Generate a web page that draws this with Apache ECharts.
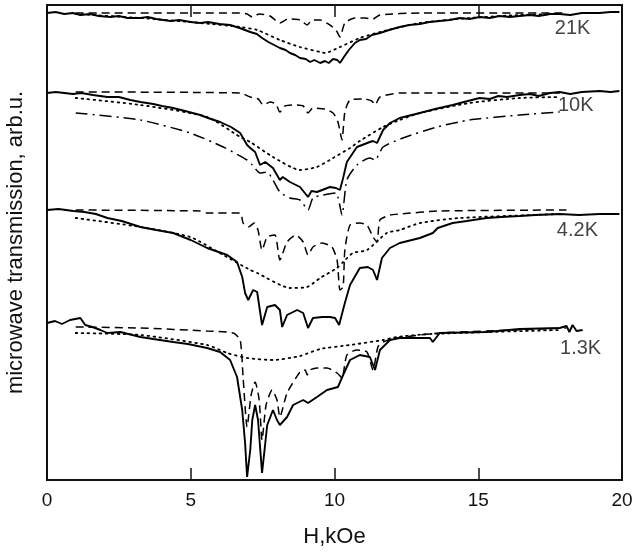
<!DOCTYPE html>
<html>
<head>
<meta charset="utf-8">
<script src="https://cdn.jsdelivr.net/npm/echarts@6/dist/echarts.min.js"></script>
<style>
  html, body { margin: 0; padding: 0; background: #fff; }
  #main { width: 635px; height: 557px; }
</style>
</head>
<body>
<div id="main"></div>
<script>
// x in kOe, y in arbitrary units (curves offset by temperature)
var xTicks = [0, 5, 10, 15, 20];

// 21K
var solid21 = [[0,467],[0.3,468],[0.6,466],[0.9,467],[1.16,465],[1.5,466],[1.8,464],[2.2,463],[2.5,464],[2.8,462],[3.25,462],[3.5,463],[3.8,461],[4.29,459],[4.6,460],[5.0,458],[5.33,457],[5.6,458],[6.0,456],[6.37,455],[6.7,452],[7.07,448],[7.3,446],[7.48,442],[7.7,438],[7.9,435],[8.1,432],[8.3,430],[8.45,427],[8.63,425],[8.8,422],[9.0,421],[9.15,418],[9.3,420],[9.5,417],[9.67,419],[9.8,417],[9.95,421],[10.1,420],[10.19,417],[10.35,424],[10.5,430],[10.71,437],[10.88,440],[11.1,441],[11.3,445],[11.58,447],[11.9,450],[12.27,453],[12.6,455],[12.97,456],[13.3,458],[13.66,459],[14.0,460],[14.36,462],[14.7,461],[15.05,463],[15.4,462],[15.74,464],[16.1,463],[16.44,464],[16.8,465],[17.1,464],[17.5,466],[17.83,466],[18.2,465],[18.6,467],[19.22,467],[19.6,468],[19.91,468]];
var dash21 = [[1.0,467],[6.72,467],[6.96,466],[7.14,463],[7.38,466],[7.76,464],[8.1,457],[8.38,461],[8.8,460],[9.05,455],[9.22,460],[9.5,460],[9.84,455],[10.05,450],[10.19,443],[10.36,457],[10.71,462],[11.06,462],[11.34,461],[11.58,465],[12.97,467],[18.07,467]];
var dot21 = [[1.0,466],[3.25,462],[5.33,457],[6.72,453],[7.31,450],[8.1,440],[8.8,433],[9.5,428],[9.67,427],[10.19,433],[10.88,442],[11.58,448],[12.97,457],[14.7,462],[16.44,465],[17.83,466]];

// 10K
var solid10 = [[0,387],[0.3,388],[0.9,386],[1.2,387],[1.6,385],[2.1,383],[2.5,383],[2.9,380],[3.25,378],[3.7,376],[4.0,374],[4.39,372],[4.8,369],[5.33,365],[5.6,362],[6.02,358],[6.4,353],[6.72,347],[6.96,335],[7.07,332],[7.24,328],[7.41,315],[7.59,318],[7.86,312],[8.1,300],[8.2,303],[8.45,298],[8.8,293],[9.08,283],[9.2,289],[9.39,288],[9.84,293],[10.05,292],[10.19,290],[10.3,302],[10.43,318],[10.78,333],[11.23,338],[11.34,339],[11.48,337],[11.69,350],[11.93,357],[12.27,362],[12.97,367],[13.5,371],[14.11,375],[14.5,378],[15.05,382],[15.4,381],[15.7,384],[16.0,383],[16.44,385],[16.8,386],[17.1,384],[17.5,387],[17.83,388],[18.2,386],[18.6,388],[19.22,389],[19.6,388],[19.91,389]];
var dash10 = [[1.0,388],[6.72,387],[7.07,383],[7.35,381],[7.52,375],[7.76,378],[7.96,376],[8.1,368],[8.28,374],[8.63,375],[8.91,374],[9.08,367],[9.25,372],[9.67,371],[9.95,367],[10.12,358],[10.26,340],[10.36,368],[10.54,380],[11.06,381],[11.3,379],[11.41,375],[11.58,383],[12.27,387],[17.83,387]];
var dot10 = [[1.0,382],[3.25,375],[5.57,363],[6.72,343],[7.07,338],[7.86,323],[8.8,310],[9.39,313],[9.95,322],[10.54,332],[10.88,339],[11.69,353],[12.27,360],[12.97,367],[14.7,377],[16.44,382],[17.83,383]];
var dashdot10 = [[1.0,367],[3.25,360],[4.98,347],[6.13,333],[6.96,320],[7.14,315],[7.41,307],[7.66,308],[7.86,300],[8.1,288],[8.45,282],[8.8,280],[9.08,270],[9.25,282],[9.6,285],[10.05,287],[10.26,265],[10.43,300],[10.78,315],[11.23,322],[11.41,320],[11.69,333],[12.38,342],[13.56,353],[14.7,360],[16.44,365],[17.83,368]];

// 4.2K
var solid42 = [[0,270],[0.4,271],[0.92,269],[1.3,268],[1.7,266],[2.1,262],[2.6,259],[3.25,253],[3.8,250],[4.39,247],[5.0,240],[5.57,232],[6.27,225],[6.61,218],[6.79,203],[6.89,187],[7.0,180],[7.17,190],[7.31,188],[7.48,155],[7.66,173],[7.93,175],[8.1,170],[8.18,153],[8.35,165],[8.7,170],[8.91,167],[9.08,152],[9.25,162],[9.57,163],[9.84,163],[10.02,162],[10.16,155],[10.36,177],[10.54,195],[10.88,212],[11.16,213],[11.34,210],[11.48,200],[11.65,222],[11.93,232],[12.27,237],[12.97,242],[13.42,247],[13.59,252],[14.11,257],[14.6,259],[15.29,262],[15.8,263],[16.44,264],[17.0,265],[17.83,266],[18.5,265],[19.22,266],[19.91,266]];
var dash42 = [[1.0,270],[5.33,269],[5.57,267],[6.72,267],[6.82,257],[7.0,253],[7.21,257],[7.34,250],[7.48,230],[7.66,243],[7.93,245],[8.1,220],[8.35,238],[8.66,245],[8.91,238],[9.08,225],[9.25,233],[9.57,237],[9.91,233],[10.09,220],[10.19,190],[10.3,193],[10.36,230],[10.54,255],[10.88,257],[11.13,255],[11.34,243],[11.48,238],[11.58,260],[11.93,265],[12.27,266],[13.66,269],[18.07,270]];
var dot42 = [[1.0,262],[3.25,253],[4.98,243],[6.13,225],[7.07,210],[7.31,207],[8.45,192],[9.05,193],[9.5,202],[10.09,212],[10.3,218],[10.64,227],[11.13,230],[11.82,247],[12.27,250],[12.97,257],[14.36,262],[17.83,266]];

// 1.3K
var solid13 = [[0,157],[0.28,159],[0.52,156],[0.8,160],[1.16,162],[1.33,155],[1.58,153],[1.86,150],[2.1,147],[2.55,148],[3.25,143],[3.7,141],[4.39,138],[4.9,136],[5.57,132],[6.02,128],[6.37,120],[6.61,103],[6.79,70],[6.89,37],[6.96,3],[7.07,30],[7.14,60],[7.24,75],[7.34,60],[7.48,7],[7.66,55],[7.86,70],[8.0,60],[8.1,55],[8.35,63],[8.56,75],[8.91,80],[9.08,77],[9.39,83],[9.74,90],[10.12,93],[10.3,105],[10.54,120],[10.88,125],[11.23,123],[11.41,110],[11.58,130],[11.93,140],[12.27,142],[13.32,142],[13.42,138],[13.66,147],[15.29,148],[16.44,151],[17.83,152],[18.07,154],[18.17,148],[18.28,155],[18.42,149],[18.63,150]];
var dash13 = [[1.0,153],[3.25,152],[5.57,149],[6.48,147],[6.72,140],[6.82,103],[6.96,53],[7.1,85],[7.24,98],[7.38,80],[7.48,40],[7.62,75],[7.83,90],[8.0,80],[8.1,63],[8.35,87],[8.8,108],[8.98,110],[9.05,105],[9.15,110],[9.39,112],[9.74,112],[10.09,107],[10.26,102],[10.43,125],[10.78,130],[11.13,128],[11.34,110],[11.51,133],[11.69,138],[12.17,142],[13.66,147],[18.07,152]];
var dot13 = [[1.0,147],[3.25,145],[5.57,135],[6.27,127],[6.96,122],[7.86,120],[8.8,124],[9.5,131],[10.54,135],[11.69,140],[12.17,143],[13.32,146],[17.83,150]];

var tempNames = ['21K', '10K', '4.2K', '1.3K'];
var tempLabelAt = [[18.28, 452], [18.39, 375], [18.45, 250], [18.56, 132]];

var ink = '#000';
var myChart = echarts.init(document.getElementById('main'));

function curve(data, kind) {
	var style = { color: ink, width: 1.9, type: 'solid' };
	if (kind == 'dash') { style.width = 1.5; style.type = [8, 5]; }
	if (kind == 'dot') { style.width = 1.8; style.type = [1.6, 4.4]; style.cap = 'round'; }
	if (kind == 'dashdot') { style.width = 1.5; style.type = [12, 5, 2, 5]; }
	return {
		type: 'line',
		data: data,
		showSymbol: false,
		symbol: 'none',
		smooth: kind == 'solid' ? false : 0.2,
		lineStyle: style,
		z: kind == 'solid' ? 3 : 2
	};
}

var labelData = [];
for (var i = 0; i < tempNames.length; i++) {
	labelData.push({ name: tempNames[i], value: tempLabelAt[i] });
}

var series = [
	curve(dash21, 'dash'), curve(dot21, 'dot'), curve(solid21, 'solid'),
	curve(dash10, 'dash'), curve(dot10, 'dot'), curve(dashdot10, 'dashdot'), curve(solid10, 'solid'),
	curve(dash42, 'dash'), curve(dot42, 'dot'), curve(solid42, 'solid'),
	curve(dash13, 'dash'), curve(dot13, 'dot'), curve(solid13, 'solid'),
	{
		type: 'scatter',
		data: labelData,
		symbolSize: 1,
		itemStyle: { color: 'rgba(0,0,0,0)' },
		z: 5,
		label: {
			show: true,
			position: 'inside',
			formatter: '{b}',
			color: '#111',
			textBorderWidth: 0,
			textBorderColor: 'transparent',
			fontSize: 20,
			fontFamily: 'Liberation Sans'
		}
	}
];

var option = {
	animation: false,
	backgroundColor: '#fff',
	textStyle: { fontFamily: 'Liberation Sans' },
	grid: {
		left: 47, right: 13, top: 5, bottom: 77,
		outerBoundsMode: 'none',
		show: true, borderColor: '#111', borderWidth: 2, backgroundColor: 'transparent'
	},
	xAxis: [{
		type: 'value', min: 0, max: 20, interval: 5, position: 'bottom',
		name: 'H,kOe', nameLocation: 'middle', nameGap: 46,
		nameTextStyle: { fontSize: 22, color: '#111' },
		axisLine: { show: false },
		axisTick: { show: true, inside: true, length: 12, lineStyle: { color: '#111', width: 1.5 } },
		axisLabel: { fontSize: 19, color: '#111', margin: 11,
			formatter: function (v) { return xTicks.indexOf(v) >= 0 ? String(v) : ''; } },
		splitLine: { show: false }
	}, {
		type: 'value', min: 0, max: 20, interval: 5, position: 'top',
		axisLine: { show: false },
		axisTick: { show: true, inside: true, length: 12, lineStyle: { color: '#111', width: 1.5 } },
		axisLabel: { show: false },
		splitLine: { show: false }
	}],
	yAxis: {
		type: 'value', min: 0, max: 475,
		name: 'microwave transmission, arb.u.', nameLocation: 'middle', nameGap: 20,
		nameTextStyle: { fontSize: 22, color: '#111' },
		axisLine: { show: false }, axisTick: { show: false }, axisLabel: { show: false },
		splitLine: { show: false }
	},
	series: series
};
myChart.setOption(option);
</script>
</body>
</html>
